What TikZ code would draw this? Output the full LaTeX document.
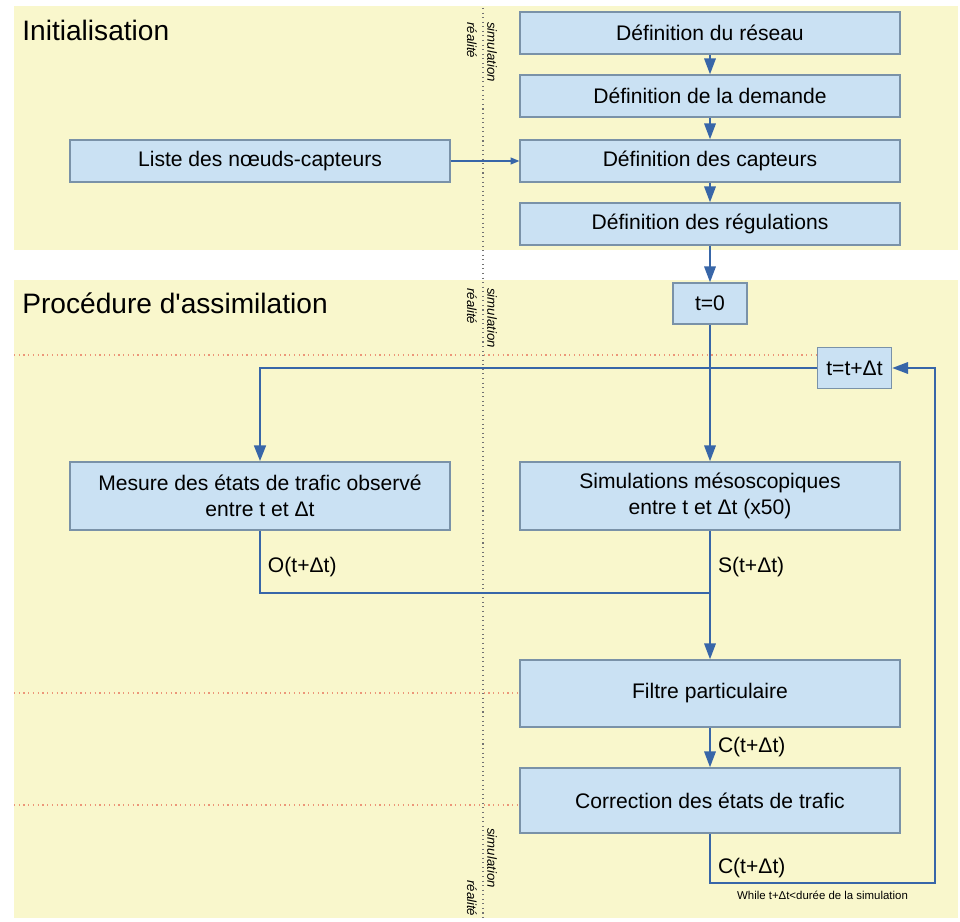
\documentclass[tikz,border=0pt]{standalone}
\usepackage{fontspec}
\setmainfont{Liberation Sans}
\usetikzlibrary{arrows.meta, positioning}
\definecolor{panelyellow}{RGB}{249,247,204}
\definecolor{stagefill}{RGB}{202,225,243}
\definecolor{stageline}{RGB}{122,146,168}
\definecolor{flowblue}{RGB}{56,102,168}
\definecolor{guidered}{RGB}{236,150,120}
\tikzset{
  stage/.style    = {draw=stageline, fill=stagefill, line width=0.8pt, align=center,
                     minimum width=7.6cm, minimum height=0.84cm, inner sep=2pt,
                     font=\fontsize{12}{14.5}\selectfont},
  tick/.style     = {stage, minimum width=1.48cm, minimum height=0.82cm},
  heading/.style  = {anchor=west, inner sep=0pt, font=\fontsize{16}{19}\selectfont},
  side/.style     = {rotate=-90, anchor=west, inner sep=0pt,
                     font=\fontsize{7.5}{9}\selectfont\itshape},
  lbl/.style      = {font=\fontsize{12}{14}\selectfont, inner sep=2pt},
  note/.style     = {font=\fontsize{6.5}{8}\selectfont, inner sep=2pt},
  flow/.style     = {-{Triangle[length=9pt, width=6.5pt]}, line width=1.1pt, draw=flowblue},
  link/.style     = {line width=1.1pt, draw=flowblue},
  thinflow/.style = {-{Triangle[length=5pt, width=4pt]}, line width=0.6pt, draw=flowblue},
  loopflow/.style = {flow, line width=1.7pt},
  divider/.style  = {dotted, line width=0.6pt, draw=black!55},
  guide/.style    = {dotted, line width=0.7pt, draw=guidered}
}

\begin{document}
\begin{tikzpicture}[x=0.02cm, y=-0.02cm]
\useasboundingbox (0,0) rectangle (960,922);
\fill[panelyellow] (14,6)   rectangle (958,250);
\fill[panelyellow] (14,280) rectangle (958,918);
\draw[divider] (483,8)  -- (483,918);
\draw[guide]   (14,355) -- (818,355);
\draw[guide]   (14,693) -- (520,693);
\draw[guide]   (14,805) -- (520,805);

\node[heading] at (22,30)  (initt)  {Initialisation};
\node[heading] at (22,303) (assimt) {Procédure d\textquotesingle assimilation};
\node[side] at (492,22)  (sim1) {simulation};
\node[side] at (472,22)  (rea1) {réalité};
\node[side] at (492,288) (sim2) {simulation};
\node[side] at (472,288) (rea2) {réalité};
\node[side] at (492,828) (sim3) {simulation};
\node[side] at (472,880) (rea3) {réalité};

\node[stage] at (710,33)  (reseau)   {Définition du réseau};
\node[stage] at (710,96)  (demande)  {Définition de la demande};
\node[stage] at (710,161) (capteurs) {Définition des capteurs};
\node[stage] at (710,224) (regul)    {Définition des régulations};
\node[stage] at (260,161) (liste)    {Liste des nœuds-capteurs};

\node[tick]  at (710,303.5) (tzero) {t=0};
\node[tick]  at (854.5,368) (tnext) {t=t+Δt};
\node[stage, minimum height=1.36cm] at (260,496) (mesure) {Mesure des états de trafic observé\\entre t et Δt};
\node[stage, minimum height=1.36cm] at (710,496) (simu)   {Simulations mésoscopiques\\entre t et Δt (x50)};
\node[stage, minimum height=1.34cm] at (710,693.5) (filtre) {Filtre particulaire};
\node[stage, minimum height=1.30cm] at (710,800.5) (correc) {Correction des états de trafic};

\coordinate (joinl) at (260,593);
\coordinate (joinr) at (710,593);
\coordinate (loopbl) at (710,883);
\coordinate (loopbr) at (935,883);
\coordinate (looptr) at (935,368);

\draw[flow] (reseau)   -- (demande);
\draw[flow] (demande)  -- (capteurs);
\draw[flow] (capteurs) -- (regul);
\draw[flow] (regul)    -- (tzero);
\draw[thinflow] (liste) -- (capteurs);
\draw[flow] (tzero) -- (simu);
\draw[loopflow] (tnext.west) -| (mesure.north);
\draw[link] (mesure.south) -- node[lbl, right=2pt, pos=0.58] {O(t+Δt)} (joinl) -- (joinr);
\draw[flow] (simu) -- node[lbl, right=2pt, pos=0.28] {S(t+Δt)} (filtre);
\draw[flow] (filtre) -- node[lbl, right=2pt] {C(t+Δt)} (correc);
\draw[flow] (correc) -- node[lbl, right=2pt, pos=0.7] {C(t+Δt)} (loopbl)
      -- node[note, below=2pt] {While t+Δt<durée de la simulation} (loopbr)
      -- (looptr) -- (tnext.east);
\end{tikzpicture}
\end{document}
